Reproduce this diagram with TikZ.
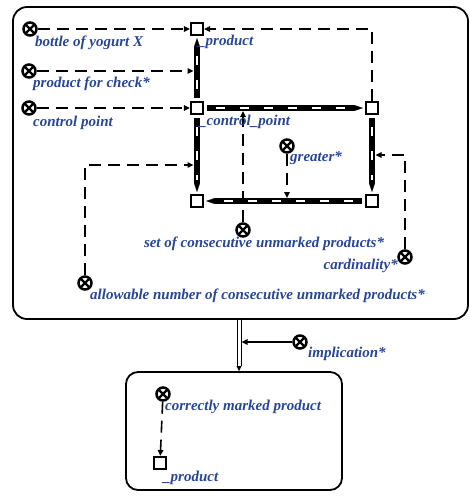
\documentclass[tikz,border=0pt]{standalone}
\usepackage{fontspec}
\setmainfont{Liberation Serif}
\usetikzlibrary{arrows.meta}
\definecolor{lbl}{RGB}{40,70,150}
\begin{document}
\begin{tikzpicture}[x=1pt,y=-1pt,
  lab/.style={text=lbl, font=\fontsize{15}{16}\selectfont\bfseries\itshape, inner sep=0pt},
  sq/.style={draw, line width=2.2pt, minimum size=12pt, inner sep=0pt, fill=white},
  obj/.style={circle, draw, line width=2.5pt, fill=white, minimum size=13pt, inner sep=0pt,
    path picture={\draw[line width=2.4pt] (path picture bounding box.south west) -- (path picture bounding box.north east) (path picture bounding box.north west) -- (path picture bounding box.south east);}},
  dsh/.style={line width=1.6pt, dash pattern=on 12pt off 7pt, -{Triangle[length=6pt,width=5.5pt]}},
  eff/.style={line width=6pt, -{Triangle[length=9pt,width=6pt,line width=0.1pt]}, shorten <=3pt, shorten >=2pt,
    postaction={draw=white, line width=2pt, dash pattern=on 9pt off 15pt, dash phase=-8pt, -, shorten <=4pt, shorten >=14pt}},
  box/.style={draw, line width=1.8pt, rounded corners=14pt, inner sep=0pt},
  dbl/.style={draw, double=white, double distance=3pt, line width=1pt}
]
\useasboundingbox (0,0) rectangle (470,499);
\node[box, minimum width=455pt, minimum height=312pt] (big) at (240.5,163) {};
\node[box, rounded corners=12pt, minimum width=216pt, minimum height=118pt] (small) at (234,431) {};

\node[sq] (pT) at (197,29) {};
\node[sq] (pC) at (197,108) {};
\node[sq] (pR) at (372,108) {};
\node[sq] (pBR) at (372,201) {};
\node[sq] (pBL) at (197,201) {};
\node[sq] (pB) at (160,463) {};

\node[obj] (oB) at (30,29) {};
\node[obj] (oP) at (29,71) {};
\node[obj] (oC) at (29,108) {};
\node[obj] (oG) at (287,146) {};
\node[obj] (oS) at (243,230) {};
\node[obj] (oCard) at (405,257) {};
\node[obj] (oA) at (85,283) {};
\node[obj] (oI) at (300,342) {};
\node[obj] (oCM) at (163,394) {};

\coordinate (jP) at (193.5,71);
\coordinate (jCard) at (375.5,155);
\coordinate (jA) at (193.5,165);
\coordinate (dx) at (239,0);
\coordinate (jI) at (241.5,342);

\draw[dsh] (oB) -- (pT);
\draw[dsh] (pR) |- (pT);
\draw[dsh] (oP) -- (jP);
\draw[dsh] (oC) -- (pC);
\draw[dsh] (oS) -- ([yshift=-3pt]oS |- pC);
\draw[dsh] (oG) -- ([yshift=3pt]oG |- pBR);
\draw[dsh] (oCard) |- (jCard);
\draw[dsh] (oA) |- (jA);
\draw[eff] (pC) -- (pT);
\draw[eff] (pC) -- (pR);
\draw[eff] (pR) -- (pBR);
\draw[eff] (pBR) -- (pBL);
\draw[eff] (pC) -- (pBL);
\draw[dsh] (oCM) -- (pB);

\draw[dbl] (big.south -| dx) -- ([yshift=5pt]small.north -| dx);
\fill ([yshift=5pt,xshift=-2.5pt]small.north -| dx) -- ([yshift=5pt,xshift=2.5pt]small.north -| dx) -- (small.north -| dx) -- cycle;
\draw[line width=1.4pt, -{Triangle[length=6pt,width=5.5pt]}] (oI) -- (jI);

\node[lab, anchor=west] (lB) at (35,43) {bottle of yogurt X};
\node[lab, anchor=west] (lP) at (33,84) {product for check*};
\node[lab, anchor=west] (lC) at (33,123) {control point};
\node[lab, anchor=west] (lPT) at (198,42) {\_product};
\node[lab, anchor=west] (lCP) at (199,122) {\_control\_point};
\node[lab, anchor=west] (lG) at (290,158) {greater*};
\node[lab] (lS) at (264,244) {set of consecutive unmarked products*};
\node[lab, anchor=east] (lCard) at (398,266) {cardinality*};
\node[lab, anchor=west] (lA) at (90,296) {allowable number of consecutive unmarked products*};
\node[lab, anchor=west] (lI) at (308,354) {implication*};
\node[lab, anchor=west] (lCM) at (165,407) {correctly marked product};
\node[lab, anchor=west] (lPB) at (163,478) {\_product};
\end{tikzpicture}
\end{document}
